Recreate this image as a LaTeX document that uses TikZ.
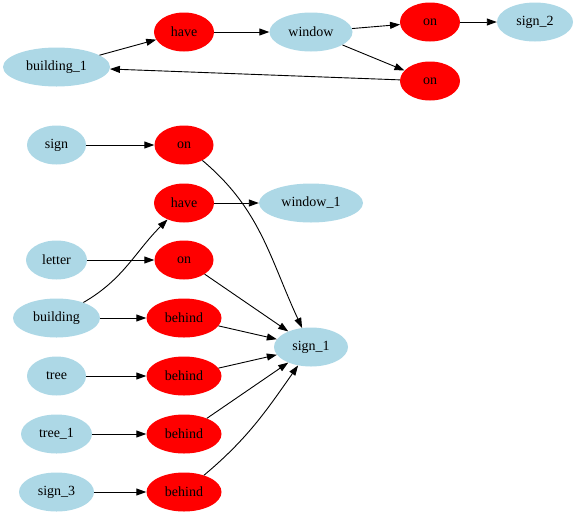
\documentclass[tikz,border=0pt]{standalone}
\usepackage{fontspec}
\setmainfont{Liberation Serif}
\usetikzlibrary{shapes.geometric,arrows.meta}
\definecolor{entity}{HTML}{ADD8E6}
\definecolor{relation}{HTML}{FF0000}
\begin{document}
\begin{tikzpicture}[x=1pt,y=-1pt,
  every node/.style={font=\fontsize{14}{16}\selectfont, inner sep=0pt},
  ent/.style={ellipse, fill=entity, minimum height=39pt},
  rel/.style={ellipse, fill=relation, minimum height=39pt},
  link/.style={draw=black, line width=0.9pt, -{Triangle[length=10pt,width=7pt]}}]
\useasboundingbox (0,0) rectangle (576,515);

% upper graph
\node[ent, minimum width=107pt] (building1) at (56.5,67) {building\_1};
\node[rel, minimum width=60pt]  (haveA)     at (184,32)  {have};
\node[ent, minimum width=83pt]  (window)    at (311,32)  {window};
\node[rel, minimum width=60pt]  (onA)       at (430,22)  {on};
\node[ent, minimum width=76pt]  (sign2)     at (535,22)  {sign\_2};
\node[rel, minimum width=60pt]  (onB)       at (430,81)  {on};

\draw[link] (building1) -- (haveA);
\draw[link] (haveA) -- (window);
\draw[link] (window) -- (onA);
\draw[link] (window) -- (onB);
\draw[link] (onA) -- (sign2);
\draw[link] (onB) -- (building1);

% lower graph
\node[ent, minimum width=59pt]  (sign)     at (56.5,145) {sign};
\node[rel, minimum width=59pt]  (onC)      at (184,145)  {on};
\node[rel, minimum width=60pt]  (haveB)    at (184,203)  {have};
\node[ent, minimum width=104pt] (window1)  at (311,203)  {window\_1};
\node[ent, minimum width=61pt]  (letter)   at (56.5,260) {letter};
\node[rel, minimum width=59pt]  (onD)      at (184,260)  {on};
\node[ent, minimum width=87pt]  (building) at (56.5,318) {building};
\node[rel, minimum width=75pt]  (behindA)  at (184,318)  {behind};
\node[ent, minimum width=74pt]  (sign1)    at (311,347)  {sign\_1};
\node[ent, minimum width=59pt]  (tree)     at (56.5,376) {tree};
\node[rel, minimum width=75pt]  (behindB)  at (184,376)  {behind};
\node[ent, minimum width=71pt]  (tree1)    at (56.5,434) {tree\_1};
\node[rel, minimum width=75pt]  (behindC)  at (184,434)  {behind};
\node[ent, minimum width=75pt]  (sign3)    at (56.5,492) {sign\_3};
\node[rel, minimum width=75pt]  (behindD)  at (184,492)  {behind};

\draw[link] (sign) -- (onC);
\draw[link] (onC) to[out=-40, in=115] (sign1);
\draw[link] (haveB) -- (window1);
\draw[link] (building) to[out=30, in=-135] (haveB);
\draw[link] (letter) -- (onD);
\draw[link] (onD) -- (sign1);
\draw[link] (building) -- (behindA);
\draw[link] (behindA) -- (sign1);
\draw[link] (tree) -- (behindB);
\draw[link] (behindB) -- (sign1);
\draw[link] (tree1) -- (behindC);
\draw[link] (behindC) -- (sign1);
\draw[link] (sign3) -- (behindD);
\draw[link] (behindD) to[out=40, in=-125] (sign1);
\end{tikzpicture}
\end{document}
